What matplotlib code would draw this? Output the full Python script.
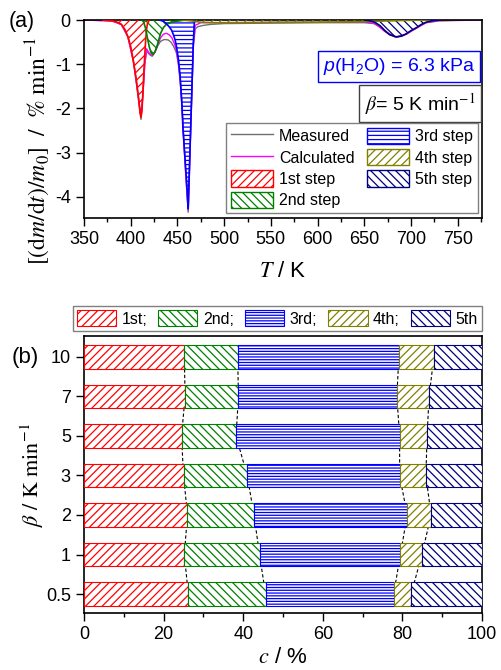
import numpy as np
import matplotlib
matplotlib.use('Agg')
import matplotlib.pyplot as plt
from matplotlib.ticker import MultipleLocator
from matplotlib.lines import Line2D
from matplotlib.patches import Patch

plt.rcParams['font.family'] = ['Liberation Sans', 'DejaVu Sans']
plt.rcParams['mathtext.fontset'] = 'custom'
plt.rcParams['mathtext.rm'] = 'Liberation Sans'
plt.rcParams['mathtext.it'] = 'Liberation Sans:italic'
plt.rcParams['axes.unicode_minus'] = False
plt.rcParams['hatch.linewidth'] = 0.9

# ---- panel (a): DTG curves at beta = 5 K/min ----
T_meas = [350, 380, 390, 397, 403, 408, 411, 413, 415, 417, 420, 423, 426, 429, 432, 436, 440, 443, 446,
          449, 451, 453, 455, 457, 459, 461.5, 463, 465, 467, 469, 472, 478, 485, 500, 550, 600, 650, 660,
          670, 677, 684, 690, 695, 700, 706, 716, 730, 750, 775]
v_meas = [0, -0.02, -0.1, -0.38, -0.95, -1.75, -2.25, -1.7, -1.0, -0.7, -0.78, -0.82, -0.72, -0.58, -0.48,
          -0.44, -0.45, -0.5, -0.6, -0.75, -1.0, -1.4, -2.0, -2.8, -3.55, -4.35, -3.3, -1.9, -0.6, -0.2,
          -0.15, -0.12, -0.1, -0.08, -0.07, -0.06, -0.06, -0.08, -0.2, -0.33, -0.39, -0.37, -0.32, -0.25,
          -0.18, -0.06, -0.02, -0.01, 0]

T_calc = [350, 380, 390, 397, 403, 408, 411, 413, 415, 417, 419, 421, 423, 426, 429, 432, 435, 438, 441,
          444, 447, 449, 451, 453, 455, 457, 459, 461.5, 463, 465, 467, 469, 475, 500, 600, 650, 662, 672,
          684, 695, 706, 716, 730, 775]
v_calc = [0, -0.02, -0.1, -0.38, -0.95, -1.7, -2.2, -1.7, -1.0, -0.65, -0.72, -0.78, -0.8, -0.72, -0.55,
          -0.4, -0.32, -0.3, -0.33, -0.4, -0.55, -0.7, -0.98, -1.35, -2.0, -2.8, -3.5, -4.3, -3.3, -1.9,
          -0.55, -0.12, -0.06, -0.06, -0.05, -0.04, -0.08, -0.26, -0.39, -0.32, -0.18, -0.06, -0.01, 0]

T_s1 = [370, 380, 386, 390, 394, 397, 400, 403, 406, 408, 410, 411, 412, 413, 414, 415, 416, 417, 418, 420]
v_s1 = [0, -0.02, -0.05, -0.1, -0.22, -0.38, -0.6, -0.95, -1.35, -1.7, -2.1, -2.2, -2.05, -1.65, -1.2,
        -0.8, -0.45, -0.2, -0.07, 0]

T_s2 = [412, 414, 416, 418, 420, 422, 424, 426, 428, 430, 432, 435, 438, 442, 448, 455, 460]
v_s2 = [0, -0.05, -0.2, -0.42, -0.62, -0.75, -0.78, -0.72, -0.6, -0.45, -0.3, -0.17, -0.1, -0.06, -0.03,
        -0.01, 0]

T_s3 = [431, 435, 438, 441, 443.5, 445.5, 447.5, 449, 451, 452.7, 454.5, 456, 458, 459.8, 461.5, 462,
        463, 464, 465, 466, 467, 468, 469]
v_s3 = [0, -0.03, -0.08, -0.15, -0.22, -0.32, -0.45, -0.6, -0.88, -1.23, -1.8, -2.5, -3.1, -3.65, -4.27,
        -3.93, -3.24, -2.56, -1.88, -1.19, -0.51, -0.08, 0]

T_s4 = [455, 465, 475, 490, 520, 560, 600, 640, 660, 690, 720]
v_s4 = [0, -0.02, -0.05, -0.06, -0.06, -0.05, -0.05, -0.04, -0.03, -0.01, 0]

T_s5 = [650, 657, 662, 667, 672, 677, 684, 690, 695, 700, 706, 711, 716, 722, 730]
v_s5 = [0, -0.02, -0.06, -0.13, -0.24, -0.33, -0.38, -0.36, -0.31, -0.24, -0.17, -0.1, -0.05, -0.02, 0]

# ---- panel (b): contribution of each step ----
rates = ['0.5', '1', '2', '3', '5', '7', '10']
share1 = [26.2, 25.2, 26.0, 25.0, 24.5, 25.4, 25.2]
share2 = [19.4, 18.9, 16.7, 16.0, 13.7, 13.4, 13.4]
share3 = [32.2, 35.4, 38.5, 38.3, 41.1, 39.8, 40.5]
share4 = [4.4, 5.4, 6.0, 6.6, 6.9, 8.1, 8.8]
share5 = [17.8, 15.1, 12.8, 14.1, 13.8, 13.3, 12.1]

colors = ['#FF0000', '#008000', '#0000FF', '#808000', '#000080']
hatches_a = ['////', '\\\\\\\\', '----', '////', '\\\\\\\\']
hatches_b = ['////', '\\\\\\\\', '------', '////', '\\\\\\\\']

fig = plt.figure(figsize=(5.01, 6.70), dpi=100)
ax1 = fig.add_axes([0.1677, 0.6746, 0.7944, 0.2955])
ax2 = fig.add_axes([0.1677, 0.0851, 0.7944, 0.4134])

# panel a
ax1.plot(T_meas, v_meas, color='#707070', lw=1.0, zorder=2)
ax1.plot(T_calc, v_calc, color='#FF00FF', lw=1.0, zorder=2)
steps = [(T_s1, v_s1), (T_s2, v_s2), (T_s3, v_s3), (T_s4, v_s4), (T_s5, v_s5)]
for (tt, vv), c, h in zip(steps, colors, hatches_a):
    ax1.fill_between(tt, vv, 0, facecolor='none', edgecolor=c, hatch=h, lw=0, zorder=3)
    ax1.plot(tt, vv, color=c, lw=1.2, zorder=4)

ax1.set_xlim(350, 776)
ax1.set_ylim(-4.48, 0.0)
ax1.xaxis.set_major_locator(MultipleLocator(50))
ax1.xaxis.set_minor_locator(MultipleLocator(25))
ax1.set_yticks([0, -1, -2, -3, -4])
ax1.set_yticklabels(['0', '-1', '-2', '-3', '-4'])
ax1.set_xlabel('$T$ / K', fontsize=16, math_fontfamily='stix', labelpad=9)
ax1.set_ylabel(r'$[(\mathrm{d}m/\mathrm{d}t)/m_0]\ \ /\ \ \%\ \mathrm{min}^{-1}$', fontsize=17,
               math_fontfamily='stix', labelpad=2, y=0.34)

ax1.text(0.983, 0.766, '$p$(H$_2$O) = 6.3 kPa', transform=ax1.transAxes, ha='right', va='center',
         fontsize=14, color='#0000FF',
         bbox=dict(boxstyle='square,pad=0.25', fc='white', ec='#0000FF', lw=1.0))
ax1.text(0.983, 0.578, r'$\beta$= 5 K min$^{-1}$', transform=ax1.transAxes, ha='right', va='center',
         fontsize=14, math_fontfamily='stix',
         bbox=dict(boxstyle='square,pad=0.28', fc='white', ec='#404040', lw=1.0))

handles_a = [Line2D([], [], color='#707070', lw=1.0), Line2D([], [], color='#FF00FF', lw=1.0)]
for c, h in zip(colors, hatches_a):
    handles_a.append(Patch(facecolor='white', edgecolor=c, hatch=h, lw=1.0))
labels_a = ['Measured', 'Calculated', '1st step', '2nd step', '3rd step', '4th step', '5th step']
leg = ax1.legend(handles_a, labels_a, ncol=2, loc='lower right', bbox_to_anchor=(0.99, 0.025),
                 borderaxespad=0, fontsize=11.5, frameon=True, fancybox=False, edgecolor='#606060',
                 handlelength=2.6, handleheight=1.2, handletextpad=0.4, columnspacing=0.8,
                 labelspacing=0.3, borderpad=0.3)
leg.get_frame().set_linewidth(1.0)

# panel b
ypos = np.arange(len(rates))
shares = [share1, share2, share3, share4, share5]
left = np.zeros(len(rates))
bounds = []
names_b = ['1st;', '2nd;', '3rd;', '4th;', '5th']
for s, c, h, nm in zip(shares, colors, hatches_b, names_b):
    ax2.barh(ypos, s, left=left, height=0.6, facecolor='white', edgecolor=c, hatch=h, lw=0.8,
             label=nm, zorder=3)
    left = left + np.array(s)
    bounds.append(left.copy())
for b in bounds[:4]:
    ax2.plot(b, ypos, color='black', ls=(0, (3, 2)), lw=0.8, zorder=1)

ax2.set_xlim(0, 100)
ax2.set_ylim(-0.48, 6.53)
ax2.set_yticks(ypos)
ax2.set_yticklabels(rates)
ax2.xaxis.set_major_locator(MultipleLocator(20))
ax2.xaxis.set_minor_locator(MultipleLocator(10))
ax2.set_xlabel('$c$ / %', fontsize=16, math_fontfamily='stix', labelpad=3)
ax2.set_ylabel(r'$\beta\ /\ \mathrm{K\ min}^{-1}$', fontsize=16, math_fontfamily='stix', labelpad=0)
legb = ax2.legend(ncol=5, loc='lower right', bbox_to_anchor=(1.0, 1.019), borderaxespad=0,
                  fontsize=11.5, frameon=True, fancybox=False, edgecolor='#606060',
                  handlelength=2.45, handleheight=1.15, handletextpad=0.35, columnspacing=0.7,
                  borderpad=0.25)
legb.get_frame().set_linewidth(1.0)

for ax in (ax1, ax2):
    ax.tick_params(which='major', direction='out', length=6, width=1, labelsize=13, top=False, right=False)
    ax.tick_params(which='minor', direction='out', length=3, width=1, top=False, right=False)
    for sp in ax.spines.values():
        sp.set_linewidth(1.2)
ax2.tick_params(axis='y', which='minor', left=False)
ax1.tick_params(axis='y', which='minor', left=False)

fig.text(0.018, 0.968, '(a)', fontsize=15.5, va='center', ha='left')
fig.text(0.024, 0.467, '(b)', fontsize=16, va='center', ha='left')

fig.savefig('out.png', dpi=100)
